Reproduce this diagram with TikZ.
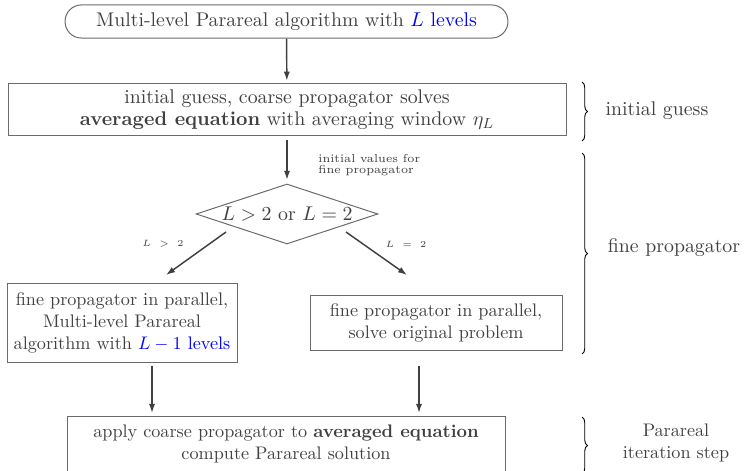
\documentclass[tikz,border=0pt]{standalone}
\usepackage{xcolor}
\usetikzlibrary{arrows.meta,shapes.geometric,decorations.pathreplacing}
\definecolor{txt}{gray}{0.25}
\definecolor{frame}{gray}{0.42}
\tikzset{
  box/.style={draw=frame, line width=0.55pt, text=txt, align=center, inner sep=2pt},
  bigtext/.style={font=\fontsize{10.9}{12}\selectfont},
  arr/.style={draw=txt, line width=0.8pt, -{Latex[length=5pt,width=3.4pt]}},
  brc/.style={draw=black, line width=0.5pt, decorate, decoration={brace, amplitude=3pt}},
  lbl/.style={text=txt, align=center},
  tinylbl/.style={text=txt, font=\tiny}
}
\begin{document}
\begin{tikzpicture}[x=0.55pt,y=-0.55pt]
\useasboundingbox (0,0) rectangle (744,471);
% nodes
\node[box, bigtext, rounded corners=9pt, minimum width=243.6pt, minimum height=18.2pt] (top) at (286.5,21.5)
  {Multi-level Parareal algorithm with \textcolor{blue}{$L$ levels}};
\node[box, bigtext, minimum width=306.9pt, minimum height=28.6pt] (init) at (287,110)
  {initial guess, coarse propagator solves\\ \textbf{averaged equation} with averaging window $\eta_L$};
\node[box, bigtext, shape=diamond, aspect=3, inner sep=0pt, minimum width=100pt, minimum height=33pt] (dia) at (287,214)
  {$L>2$ or $L=2$};
\node[box, minimum width=126.5pt, minimum height=42.9pt] (left) at (122,323)
  {fine propagator in parallel,\\ Multi-level Parareal\\ algorithm with \textcolor{blue}{$L-1$ levels}};
\node[box, minimum width=138.6pt, minimum height=29.7pt] (right) at (436,323)
  {fine propagator in parallel,\\ solve original problem};
\node[box, minimum width=240.9pt, minimum height=30.8pt] (bot) at (286,444)
  {apply coarse propagator to \textbf{averaged equation}\\ compute Parareal solution};
% small labels
\node[tinylbl, font=\fontsize{6.4}{6.4}\selectfont, anchor=west, align=left] (ivl) at (312,165) {initial values for\\ fine propagator};
\node[tinylbl] (lgt) at (163,244) {$L\enspace>\enspace2$};
\node[tinylbl] (leq) at (406,244) {$L\enspace=\enspace2$};
% connectors
\draw[arr, shorten >=1.5pt] (top) -- (init);
\draw[arr, shorten <=2pt, shorten >=2pt] (init) -- (dia);
\coordinate (l1) at (226,232); \coordinate (l2) at (166,275);
\coordinate (r1) at (346,232); \coordinate (r2) at (407,275);
\draw[arr] (l1) -- (l2);
\draw[arr] (r1) -- (r2);
\coordinate (b1) at (152,366); \coordinate (b2) at (152,413);
\coordinate (c1) at (419,366); \coordinate (c2) at (419,413);
\draw[arr] (b1) -- (b2);
\draw[arr] (c1) -- (c2);
% braces
\coordinate (g1) at (582,82); \coordinate (g2) at (582,141);
\coordinate (f1) at (582,153); \coordinate (f2) at (582,354);
\coordinate (p1) at (582,417); \coordinate (p2) at (582,474);
\draw[brc] (g1) -- (g2);
\draw[brc] (f1) -- (f2);
\draw[brc] (p1) -- (p2);
\node[lbl, bigtext] (lg) at (657,111) {initial guess};
\node[lbl, bigtext] (lf) at (674,248) {fine propagator};
\node[lbl] (lp) at (676,443) {Parareal\\ iteration step};
\end{tikzpicture}
\end{document}
